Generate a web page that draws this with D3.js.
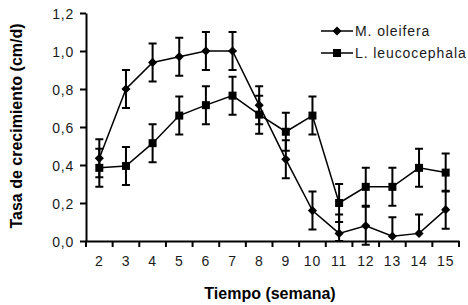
<!DOCTYPE html>
<html>
<head>
<meta charset="utf-8">
<script src="https://cdn.jsdelivr.net/npm/d3@7"></script>
<style>
  body { margin:0; background:#fff; }
  svg { display:block; font-family: "Liberation Sans", Arial, sans-serif; }
  .tick text { font-size:14px; fill:#1a1a1a; letter-spacing:0.8px; }
</style>
</head>
<body>
<svg id="chart" width="468" height="305"></svg>
<script>
const weeks = [2,3,4,5,6,7,8,9,10,11,12,13,14,15];
const yTicks = [0, 0.2, 0.4, 0.6, 0.8, 1.0, 1.2];

// M. oleifera
const moringa = [0.435, 0.80, 0.94, 0.97, 1.00, 1.00, 0.715, 0.43, 0.16, 0.04, 0.08, 0.025, 0.04, 0.165];
const moringaErrUp = [0.1,0.1,0.1,0.1,0.1,0.1,0.1,0.1,0.1,0.1,0.1,0.1,0.1,0.1];
const moringaErrDn = [0.1,0.1,0.1,0.1,0.1,0.1,0.1,0.1,0.1,0.04,0.1,0,0,0.1];

// L. leucocephala
const leucaena = [0.385, 0.395, 0.515, 0.66, 0.715, 0.765, 0.665, 0.575, 0.66, 0.20, 0.285, 0.285, 0.385, 0.36];
const leucaenaErr = [0.1,0.1,0.1,0.1,0.1,0.1,0.1,0.1,0.1,0.1,0.1,0.1,0.1,0.1];

const series = [
  { name: "M. oleifera", values: moringa, up: moringaErrUp, dn: moringaErrDn, size: 42, rot: 45 },
  { name: "L. leucocephala", values: leucaena, up: leucaenaErr, dn: leucaenaErr, size: 64, rot: 0 }
];

const svg = d3.select("#chart");
const m = { left: 86, right: 9, top: 13, bottom: 64 };
const W = 468, H = 305;

const x = d3.scaleBand().domain(weeks).range([m.left, W - m.right]);
const y = d3.scaleLinear().domain([0, 1.2]).range([H - m.bottom, m.top]);
const fmt = v => d3.format(".1f")(v).replace(".", ",");

// ejes
const gx = svg.append("g")
  .attr("transform", `translate(0,${y(0)})`)
  .call(d3.axisBottom(x).tickSize(0).tickPadding(15));
gx.select(".domain").attr("stroke", "#000").attr("stroke-width", 2);
// marcas entre categorías
svg.append("g").selectAll("line")
  .data(weeks.map((w, i) => i).concat([weeks.length]))
  .join("line")
  .attr("x1", i => m.left + i * x.step())
  .attr("x2", i => m.left + i * x.step())
  .attr("y1", y(0)).attr("y2", y(0) + 6)
  .attr("stroke", "#000").attr("stroke-width", 2);

const gy = svg.append("g")
  .attr("transform", `translate(${m.left},0)`)
  .call(d3.axisLeft(y).tickValues(yTicks).tickFormat(fmt).tickSize(6).tickPadding(6).tickSizeOuter(0));
gy.select(".domain").attr("stroke", "#000").attr("stroke-width", 2);
gy.selectAll(".tick line").attr("stroke", "#000").attr("stroke-width", 2);
gy.selectAll(".tick text").attr("dy", "0.36em");

const cx = w => x(w) + x.bandwidth() / 2;

// barras de error, líneas y marcadores
series.forEach(s => {
  const g = svg.append("g");
  const pts = weeks.map((w, i) => ({ w, v: s.values[i], up: s.up[i], dn: s.dn[i] }));
  g.selectAll(".err")
    .data(pts)
    .join("path")
    .attr("fill", "none").attr("stroke", "#000").attr("stroke-width", 2)
    .attr("d", d => {
      const X = cx(d.w), top = y(d.v + d.up), bot = y(d.v - d.dn);
      let p = `M${X},${top}V${bot}M${X - 4},${top}H${X + 4}`;
      if (d.dn > 0) p += `M${X - 4},${bot}H${X + 4}`;
      return p;
    });
  g.append("path")
    .datum(pts)
    .attr("fill", "none").attr("stroke", "#000").attr("stroke-width", 1.5)
    .attr("d", d3.line().x(d => cx(d.w)).y(d => y(d.v)));
  g.selectAll(".mk")
    .data(pts)
    .join("path")
    .attr("transform", d => `translate(${cx(d.w)},${y(d.v)}) rotate(${s.rot})`)
    .attr("d", d3.symbol().type(d3.symbolSquare).size(s.size))
    .attr("fill", "#000");
});

// leyenda
const leg = svg.append("g");
series.forEach((s, i) => {
  const yy = 31 + i * 22;
  leg.append("line").attr("x1", 321).attr("x2", 353).attr("y1", yy).attr("y2", yy)
    .attr("stroke", "#000").attr("stroke-width", 1.5);
  leg.append("path").attr("transform", `translate(337,${yy}) rotate(${s.rot})`)
    .attr("d", d3.symbol().type(d3.symbolSquare).size(s.size)).attr("fill", "#000");
  leg.append("text").attr("x", 355).attr("y", yy).attr("dy", "0.36em")
    .style("font-size", "14px").style("letter-spacing", "0.9px").attr("fill", "#1a1a1a").text(s.name);
});

// títulos
svg.append("text")
  .attr("x", 270).attr("y", 299)
  .attr("text-anchor", "middle").style("font-size", "16px").style("font-weight", "bold")
  .text("Tiempo (semana)");
svg.append("text")
  .attr("transform", `translate(22,126) rotate(-90)`)
  .attr("text-anchor", "middle").style("font-size", "16px").style("font-weight", "bold")
  .text("Tasa de crecimiento (cm/d)");
</script>
</body>
</html>
